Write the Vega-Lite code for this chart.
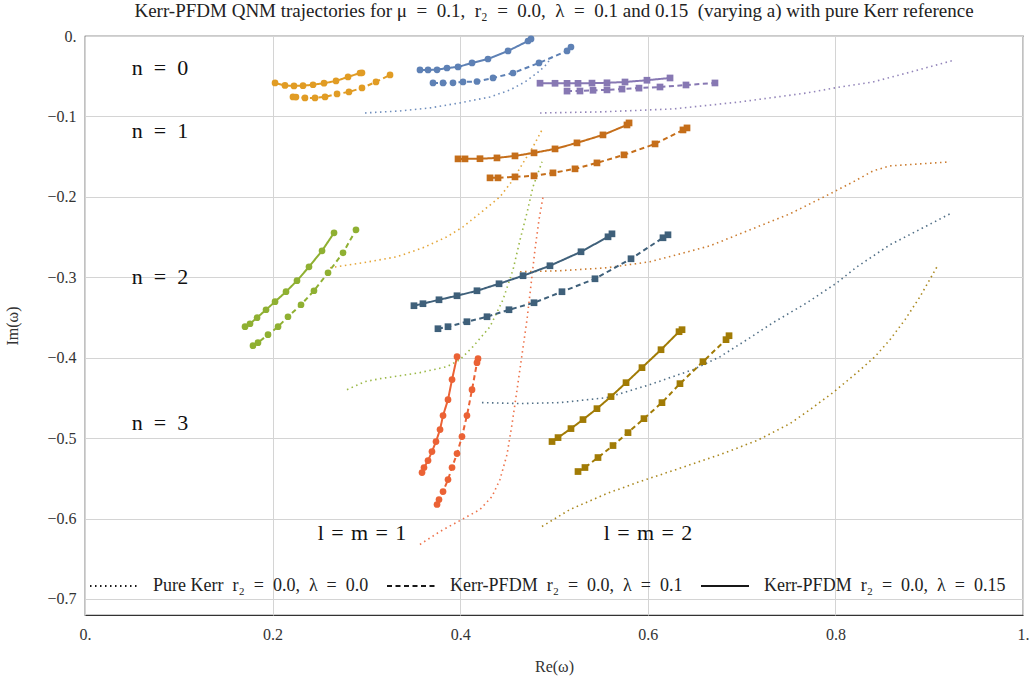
{
"$schema": "https://vega.github.io/schema/vega-lite/v6.json",
"width": 938, "height": 579,
"autosize": {"type": "none"},
"padding": {"left": 85, "top": 36, "right": 13, "bottom": 68},
"background": "white",
"title": {"text": "Kerr-PFDM QNM trajectories for μ\u2002=\u20020.1,\u00a0\u00a0r₂\u2002=\u20020.0,\u00a0\u00a0λ\u2002=\u20020.1 and 0.15\u00a0\u00a0(varying a) with pure Kerr reference", "font": "Liberation Serif", "fontSize": 19, "fontWeight": "normal", "color": "#222", "anchor": "middle", "offset": 7},
"config": {
  "view": {"stroke": "#333", "strokeWidth": 1.2},
  "axis": {"domain": false, "grid": true, "gridColor": "#d4d4d4", "gridWidth": 1, "ticks": false, "labelFont": "Liberation Serif", "labelFontSize": 16, "labelColor": "#333", "titleFont": "Liberation Serif", "titleFontSize": 16, "titleFontWeight": "normal", "titleColor": "#333", "labelFlush": false, "labelOverlap": false}
},
"data": {"values": [
{"c":"a0","k":"K","i":1,"re":0.2985,"im":-0.0957},{"c":"a0","k":"K","i":2,"re":0.3358,"im":-0.0932},{"c":"a0","k":"K","i":3,"re":0.3678,"im":-0.0894},{"c":"a0","k":"K","i":4,"re":0.3998,"im":-0.0832},{"c":"a0","k":"K","i":5,"re":0.4318,"im":-0.0758},{"c":"a0","k":"K","i":6,"re":0.4531,"im":-0.0671},{"c":"a0","k":"K","i":7,"re":0.4691,"im":-0.0571},{"c":"a0","k":"K","i":8,"re":0.4819,"im":-0.0460},{"c":"a0","k":"K","i":9,"re":0.4904,"im":-0.0373},{"c":"a0","k":"K","i":10,"re":0.4979,"im":-0.0261},
{"c":"a1","k":"K","i":1,"re":0.2612,"im":-0.2882},{"c":"a1","k":"K","i":2,"re":0.2964,"im":-0.2820},{"c":"a1","k":"K","i":3,"re":0.3326,"im":-0.2745},{"c":"a1","k":"K","i":4,"re":0.3603,"im":-0.2634},{"c":"a1","k":"K","i":5,"re":0.3859,"im":-0.2497},{"c":"a1","k":"K","i":6,"re":0.4030,"im":-0.2373},{"c":"a1","k":"K","i":7,"re":0.4243,"im":-0.2174},{"c":"a1","k":"K","i":8,"re":0.4424,"im":-0.2000},{"c":"a1","k":"K","i":9,"re":0.4563,"im":-0.1789},{"c":"a1","k":"K","i":10,"re":0.4670,"im":-0.1578},{"c":"a1","k":"K","i":11,"re":0.4776,"im":-0.1379},{"c":"a1","k":"K","i":12,"re":0.4872,"im":-0.1168},
{"c":"a2","k":"K","i":1,"re":0.2793,"im":-0.4398},{"c":"a2","k":"K","i":2,"re":0.2985,"im":-0.4298},{"c":"a2","k":"K","i":3,"re":0.3145,"im":-0.4261},{"c":"a2","k":"K","i":4,"re":0.3571,"im":-0.4186},{"c":"a2","k":"K","i":5,"re":0.3859,"im":-0.4112},{"c":"a2","k":"K","i":6,"re":0.3998,"im":-0.4025},{"c":"a2","k":"K","i":7,"re":0.4136,"im":-0.3863},{"c":"a2","k":"K","i":8,"re":0.4318,"im":-0.3615},{"c":"a2","k":"K","i":9,"re":0.4456,"im":-0.3280},{"c":"a2","k":"K","i":10,"re":0.4563,"im":-0.2907},{"c":"a2","k":"K","i":11,"re":0.4638,"im":-0.2534},{"c":"a2","k":"K","i":12,"re":0.4712,"im":-0.2199},{"c":"a2","k":"K","i":13,"re":0.4776,"im":-0.1876},{"c":"a2","k":"K","i":14,"re":0.4872,"im":-0.1565},
{"c":"a3","k":"K","i":1,"re":0.3571,"im":-0.6323},{"c":"a3","k":"K","i":2,"re":0.3785,"im":-0.6161},{"c":"a3","k":"K","i":3,"re":0.3998,"im":-0.6025},{"c":"a3","k":"K","i":4,"re":0.4211,"im":-0.5888},{"c":"a3","k":"K","i":5,"re":0.4339,"im":-0.5727},{"c":"a3","k":"K","i":6,"re":0.4424,"im":-0.5516},{"c":"a3","k":"K","i":7,"re":0.4499,"im":-0.5205},{"c":"a3","k":"K","i":8,"re":0.4552,"im":-0.4832},{"c":"a3","k":"K","i":9,"re":0.4606,"im":-0.4398},{"c":"a3","k":"K","i":10,"re":0.4659,"im":-0.3963},{"c":"a3","k":"K","i":11,"re":0.4712,"im":-0.3528},{"c":"a3","k":"K","i":12,"re":0.4755,"im":-0.3093},{"c":"a3","k":"K","i":13,"re":0.4797,"im":-0.2658},{"c":"a3","k":"K","i":14,"re":0.4840,"im":-0.2286},{"c":"a3","k":"K","i":15,"re":0.4883,"im":-0.2000},
{"c":"b0","k":"K","i":1,"re":0.4851,"im":-0.0957},{"c":"b0","k":"K","i":2,"re":0.5490,"im":-0.0944},{"c":"b0","k":"K","i":3,"re":0.6269,"im":-0.0907},{"c":"b0","k":"K","i":4,"re":0.6983,"im":-0.0820},{"c":"b0","k":"K","i":5,"re":0.7697,"im":-0.0708},{"c":"b0","k":"K","i":6,"re":0.8049,"im":-0.0634},{"c":"b0","k":"K","i":7,"re":0.8401,"im":-0.0571},{"c":"b0","k":"K","i":8,"re":0.8763,"im":-0.0460},{"c":"b0","k":"K","i":9,"re":0.9115,"im":-0.0348},{"c":"b0","k":"K","i":10,"re":0.9275,"im":-0.0298},
{"c":"b1","k":"K","i":1,"re":0.4638,"im":-0.2932},{"c":"b1","k":"K","i":2,"re":0.5064,"im":-0.2919},{"c":"b1","k":"K","i":3,"re":0.5565,"im":-0.2882},{"c":"b1","k":"K","i":4,"re":0.6023,"im":-0.2807},{"c":"b1","k":"K","i":5,"re":0.6269,"im":-0.2733},{"c":"b1","k":"K","i":6,"re":0.6663,"im":-0.2609},{"c":"b1","k":"K","i":7,"re":0.6983,"im":-0.2460},{"c":"b1","k":"K","i":8,"re":0.7516,"im":-0.2211},{"c":"b1","k":"K","i":9,"re":0.7942,"im":-0.1963},{"c":"b1","k":"K","i":10,"re":0.8230,"im":-0.1789},{"c":"b1","k":"K","i":11,"re":0.8401,"im":-0.1677},{"c":"b1","k":"K","i":12,"re":0.8582,"im":-0.1615},{"c":"b1","k":"K","i":13,"re":0.8902,"im":-0.1590},{"c":"b1","k":"K","i":14,"re":0.9222,"im":-0.1565},
{"c":"b2","k":"K","i":1,"re":0.4232,"im":-0.4559},{"c":"b2","k":"K","i":2,"re":0.4638,"im":-0.4571},{"c":"b2","k":"K","i":3,"re":0.5064,"im":-0.4559},{"c":"b2","k":"K","i":4,"re":0.5565,"im":-0.4497},{"c":"b2","k":"K","i":5,"re":0.6023,"im":-0.4335},{"c":"b2","k":"K","i":6,"re":0.6482,"im":-0.4149},{"c":"b2","k":"K","i":7,"re":0.6770,"im":-0.3988},{"c":"b2","k":"K","i":8,"re":0.7058,"im":-0.3776},{"c":"b2","k":"K","i":9,"re":0.7335,"im":-0.3565},{"c":"b2","k":"K","i":10,"re":0.7697,"im":-0.3317},{"c":"b2","k":"K","i":11,"re":0.8017,"im":-0.3068},{"c":"b2","k":"K","i":12,"re":0.8230,"im":-0.2870},{"c":"b2","k":"K","i":13,"re":0.8582,"im":-0.2596},{"c":"b2","k":"K","i":14,"re":0.8934,"im":-0.2385},{"c":"b2","k":"K","i":15,"re":0.9222,"im":-0.2211},
{"c":"b3","k":"K","i":1,"re":0.4872,"im":-0.6099},{"c":"b3","k":"K","i":2,"re":0.5171,"im":-0.5888},{"c":"b3","k":"K","i":3,"re":0.5565,"im":-0.5689},{"c":"b3","k":"K","i":4,"re":0.5917,"im":-0.5540},{"c":"b3","k":"K","i":5,"re":0.6269,"im":-0.5404},{"c":"b3","k":"K","i":6,"re":0.6770,"im":-0.5205},{"c":"b3","k":"K","i":7,"re":0.7164,"im":-0.5031},{"c":"b3","k":"K","i":8,"re":0.7516,"im":-0.4820},{"c":"b3","k":"K","i":9,"re":0.7729,"im":-0.4646},{"c":"b3","k":"K","i":10,"re":0.7974,"im":-0.4435},{"c":"b3","k":"K","i":11,"re":0.8230,"im":-0.4186},{"c":"b3","k":"K","i":12,"re":0.8422,"im":-0.3988},{"c":"b3","k":"K","i":13,"re":0.8582,"im":-0.3776},{"c":"b3","k":"K","i":14,"re":0.8742,"im":-0.3528},{"c":"b3","k":"K","i":15,"re":0.8902,"im":-0.3242},{"c":"b3","k":"K","i":16,"re":0.9083,"im":-0.2870},
{"c":"a0","k":"L15","i":1,"re":0.3571,"im":-0.0422},{"c":"a0","k":"L15","i":2,"re":0.3657,"im":-0.0422},{"c":"a0","k":"L15","i":3,"re":0.3753,"im":-0.0420},{"c":"a0","k":"L15","i":4,"re":0.3859,"im":-0.0398},{"c":"a0","k":"L15","i":5,"re":0.3977,"im":-0.0385},{"c":"a0","k":"L15","i":6,"re":0.4126,"im":-0.0335},{"c":"a0","k":"L15","i":7,"re":0.4296,"im":-0.0286},{"c":"a0","k":"L15","i":8,"re":0.4510,"im":-0.0186},{"c":"a0","k":"L15","i":9,"re":0.4723,"im":-0.0062},{"c":"a0","k":"L15","i":10,"re":0.4755,"im":-0.0037},
{"c":"a0","k":"L1","i":1,"re":0.3710,"im":-0.0584},{"c":"a0","k":"L1","i":2,"re":0.3817,"im":-0.0584},{"c":"a0","k":"L1","i":3,"re":0.3923,"im":-0.0582},{"c":"a0","k":"L1","i":4,"re":0.4030,"im":-0.0571},{"c":"a0","k":"L1","i":5,"re":0.4179,"im":-0.0566},{"c":"a0","k":"L1","i":6,"re":0.4350,"im":-0.0522},{"c":"a0","k":"L1","i":7,"re":0.4563,"im":-0.0460},{"c":"a0","k":"L1","i":8,"re":0.4840,"im":-0.0335},{"c":"a0","k":"L1","i":9,"re":0.5139,"im":-0.0186},{"c":"a0","k":"L1","i":10,"re":0.5181,"im":-0.0137},
{"c":"a1","k":"L15","i":1,"re":0.2026,"im":-0.0584},{"c":"a1","k":"L15","i":2,"re":0.2132,"im":-0.0615},{"c":"a1","k":"L15","i":3,"re":0.2228,"im":-0.0621},{"c":"a1","k":"L15","i":4,"re":0.2324,"im":-0.0618},{"c":"a1","k":"L15","i":5,"re":0.2431,"im":-0.0606},{"c":"a1","k":"L15","i":6,"re":0.2548,"im":-0.0587},{"c":"a1","k":"L15","i":7,"re":0.2676,"im":-0.0559},{"c":"a1","k":"L15","i":8,"re":0.2804,"im":-0.0509},{"c":"a1","k":"L15","i":9,"re":0.2932,"im":-0.0460},{"c":"a1","k":"L15","i":10,"re":0.2953,"im":-0.0458},
{"c":"a1","k":"L1","i":1,"re":0.2217,"im":-0.0758},{"c":"a1","k":"L1","i":2,"re":0.2249,"im":-0.0760},{"c":"a1","k":"L1","i":3,"re":0.2345,"im":-0.0770},{"c":"a1","k":"L1","i":4,"re":0.2452,"im":-0.0770},{"c":"a1","k":"L1","i":5,"re":0.2559,"im":-0.0758},{"c":"a1","k":"L1","i":6,"re":0.2687,"im":-0.0720},{"c":"a1","k":"L1","i":7,"re":0.2814,"im":-0.0696},{"c":"a1","k":"L1","i":8,"re":0.2953,"im":-0.0646},{"c":"a1","k":"L1","i":9,"re":0.3102,"im":-0.0571},{"c":"a1","k":"L1","i":10,"re":0.3252,"im":-0.0484},
{"c":"a2","k":"L15","i":1,"re":0.1706,"im":-0.3615},{"c":"a2","k":"L15","i":2,"re":0.1759,"im":-0.3578},{"c":"a2","k":"L15","i":3,"re":0.1834,"im":-0.3503},{"c":"a2","k":"L15","i":4,"re":0.1930,"im":-0.3404},{"c":"a2","k":"L15","i":5,"re":0.2026,"im":-0.3304},{"c":"a2","k":"L15","i":6,"re":0.2143,"im":-0.3180},{"c":"a2","k":"L15","i":7,"re":0.2260,"im":-0.3043},{"c":"a2","k":"L15","i":8,"re":0.2388,"im":-0.2870},{"c":"a2","k":"L15","i":9,"re":0.2527,"im":-0.2671},{"c":"a2","k":"L15","i":10,"re":0.2655,"im":-0.2447},
{"c":"a2","k":"L1","i":1,"re":0.1791,"im":-0.3851},{"c":"a2","k":"L1","i":2,"re":0.1844,"im":-0.3814},{"c":"a2","k":"L1","i":3,"re":0.1951,"im":-0.3714},{"c":"a2","k":"L1","i":4,"re":0.2058,"im":-0.3615},{"c":"a2","k":"L1","i":5,"re":0.2164,"im":-0.3491},{"c":"a2","k":"L1","i":6,"re":0.2303,"im":-0.3342},{"c":"a2","k":"L1","i":7,"re":0.2441,"im":-0.3168},{"c":"a2","k":"L1","i":8,"re":0.2591,"im":-0.2944},{"c":"a2","k":"L1","i":9,"re":0.2751,"im":-0.2696},{"c":"a2","k":"L1","i":10,"re":0.2889,"im":-0.2410},
{"c":"a3","k":"L15","i":1,"re":0.3966,"im":-0.3988},{"c":"a3","k":"L15","i":2,"re":0.3913,"im":-0.4273},{"c":"a3","k":"L15","i":3,"re":0.3870,"im":-0.4522},{"c":"a3","k":"L15","i":4,"re":0.3817,"im":-0.4720},{"c":"a3","k":"L15","i":5,"re":0.3785,"im":-0.4894},{"c":"a3","k":"L15","i":6,"re":0.3742,"im":-0.5043},{"c":"a3","k":"L15","i":7,"re":0.3699,"im":-0.5168},{"c":"a3","k":"L15","i":8,"re":0.3657,"im":-0.5280},{"c":"a3","k":"L15","i":9,"re":0.3614,"im":-0.5366},{"c":"a3","k":"L15","i":10,"re":0.3593,"im":-0.5429},
{"c":"a3","k":"L1","i":1,"re":0.4190,"im":-0.4012},{"c":"a3","k":"L1","i":2,"re":0.4179,"im":-0.4062},{"c":"a3","k":"L1","i":3,"re":0.4126,"im":-0.4398},{"c":"a3","k":"L1","i":4,"re":0.4072,"im":-0.4720},{"c":"a3","k":"L1","i":5,"re":0.4019,"im":-0.4981},{"c":"a3","k":"L1","i":6,"re":0.3966,"im":-0.5193},{"c":"a3","k":"L1","i":7,"re":0.3913,"im":-0.5366},{"c":"a3","k":"L1","i":8,"re":0.3870,"im":-0.5516},{"c":"a3","k":"L1","i":9,"re":0.3817,"im":-0.5665},{"c":"a3","k":"L1","i":10,"re":0.3774,"im":-0.5764},{"c":"a3","k":"L1","i":11,"re":0.3753,"im":-0.5826},
{"c":"b0","k":"L15","i":1,"re":0.4851,"im":-0.0587},{"c":"b0","k":"L15","i":2,"re":0.5011,"im":-0.0588},{"c":"b0","k":"L15","i":3,"re":0.5139,"im":-0.0589},{"c":"b0","k":"L15","i":4,"re":0.5256,"im":-0.0589},{"c":"b0","k":"L15","i":5,"re":0.5405,"im":-0.0586},{"c":"b0","k":"L15","i":6,"re":0.5565,"im":-0.0582},{"c":"b0","k":"L15","i":7,"re":0.5757,"im":-0.0572},{"c":"b0","k":"L15","i":8,"re":0.5991,"im":-0.0550},{"c":"b0","k":"L15","i":9,"re":0.6237,"im":-0.0522},
{"c":"b0","k":"L1","i":1,"re":0.5139,"im":-0.0685},{"c":"b0","k":"L1","i":2,"re":0.5277,"im":-0.0684},{"c":"b0","k":"L1","i":3,"re":0.5416,"im":-0.0675},{"c":"b0","k":"L1","i":4,"re":0.5565,"im":-0.0670},{"c":"b0","k":"L1","i":5,"re":0.5725,"im":-0.0660},{"c":"b0","k":"L1","i":6,"re":0.5906,"im":-0.0648},{"c":"b0","k":"L1","i":7,"re":0.6130,"im":-0.0634},{"c":"b0","k":"L1","i":8,"re":0.6407,"im":-0.0609},{"c":"b0","k":"L1","i":9,"re":0.6716,"im":-0.0584},
{"c":"b1","k":"L15","i":1,"re":0.3977,"im":-0.1528},{"c":"b1","k":"L15","i":2,"re":0.4051,"im":-0.1528},{"c":"b1","k":"L15","i":3,"re":0.4211,"im":-0.1526},{"c":"b1","k":"L15","i":4,"re":0.4392,"im":-0.1516},{"c":"b1","k":"L15","i":5,"re":0.4584,"im":-0.1491},{"c":"b1","k":"L15","i":6,"re":0.4787,"im":-0.1453},{"c":"b1","k":"L15","i":7,"re":0.5011,"im":-0.1404},{"c":"b1","k":"L15","i":8,"re":0.5245,"im":-0.1329},{"c":"b1","k":"L15","i":9,"re":0.5522,"im":-0.1230},{"c":"b1","k":"L15","i":10,"re":0.5778,"im":-0.1106},{"c":"b1","k":"L15","i":11,"re":0.5800,"im":-0.1081},
{"c":"b1","k":"L1","i":1,"re":0.4318,"im":-0.1764},{"c":"b1","k":"L1","i":2,"re":0.4403,"im":-0.1764},{"c":"b1","k":"L1","i":3,"re":0.4584,"im":-0.1752},{"c":"b1","k":"L1","i":4,"re":0.4787,"im":-0.1739},{"c":"b1","k":"L1","i":5,"re":0.4989,"im":-0.1702},{"c":"b1","k":"L1","i":6,"re":0.5224,"im":-0.1652},{"c":"b1","k":"L1","i":7,"re":0.5458,"im":-0.1578},{"c":"b1","k":"L1","i":8,"re":0.5746,"im":-0.1478},{"c":"b1","k":"L1","i":9,"re":0.6077,"im":-0.1342},{"c":"b1","k":"L1","i":10,"re":0.6375,"im":-0.1168},{"c":"b1","k":"L1","i":11,"re":0.6418,"im":-0.1143},
{"c":"b2","k":"L15","i":1,"re":0.3507,"im":-0.3354},{"c":"b2","k":"L15","i":2,"re":0.3603,"im":-0.3329},{"c":"b2","k":"L15","i":3,"re":0.3774,"im":-0.3280},{"c":"b2","k":"L15","i":4,"re":0.3966,"im":-0.3230},{"c":"b2","k":"L15","i":5,"re":0.4179,"im":-0.3168},{"c":"b2","k":"L15","i":6,"re":0.4414,"im":-0.3081},{"c":"b2","k":"L15","i":7,"re":0.4670,"im":-0.2981},{"c":"b2","k":"L15","i":8,"re":0.4957,"im":-0.2857},{"c":"b2","k":"L15","i":9,"re":0.5288,"im":-0.2683},{"c":"b2","k":"L15","i":10,"re":0.5576,"im":-0.2497},{"c":"b2","k":"L15","i":11,"re":0.5618,"im":-0.2460},
{"c":"b2","k":"L1","i":1,"re":0.3763,"im":-0.3640},{"c":"b2","k":"L1","i":2,"re":0.3870,"im":-0.3615},{"c":"b2","k":"L1","i":3,"re":0.4072,"im":-0.3553},{"c":"b2","k":"L1","i":4,"re":0.4286,"im":-0.3491},{"c":"b2","k":"L1","i":5,"re":0.4520,"im":-0.3404},{"c":"b2","k":"L1","i":6,"re":0.4787,"im":-0.3317},{"c":"b2","k":"L1","i":7,"re":0.5085,"im":-0.3180},{"c":"b2","k":"L1","i":8,"re":0.5437,"im":-0.3019},{"c":"b2","k":"L1","i":9,"re":0.5821,"im":-0.2770},{"c":"b2","k":"L1","i":10,"re":0.6162,"im":-0.2509},{"c":"b2","k":"L1","i":11,"re":0.6215,"im":-0.2472},
{"c":"b3","k":"L15","i":1,"re":0.4979,"im":-0.5043},{"c":"b3","k":"L15","i":2,"re":0.5043,"im":-0.4994},{"c":"b3","k":"L15","i":3,"re":0.5181,"im":-0.4882},{"c":"b3","k":"L15","i":4,"re":0.5309,"im":-0.4770},{"c":"b3","k":"L15","i":5,"re":0.5458,"im":-0.4634},{"c":"b3","k":"L15","i":6,"re":0.5608,"im":-0.4484},{"c":"b3","k":"L15","i":7,"re":0.5768,"im":-0.4311},{"c":"b3","k":"L15","i":8,"re":0.5938,"im":-0.4124},{"c":"b3","k":"L15","i":9,"re":0.6141,"im":-0.3901},{"c":"b3","k":"L15","i":10,"re":0.6333,"im":-0.3677},{"c":"b3","k":"L15","i":11,"re":0.6365,"im":-0.3652},
{"c":"b3","k":"L1","i":1,"re":0.5256,"im":-0.5416},{"c":"b3","k":"L1","i":2,"re":0.5330,"im":-0.5366},{"c":"b3","k":"L1","i":3,"re":0.5469,"im":-0.5242},{"c":"b3","k":"L1","i":4,"re":0.5629,"im":-0.5093},{"c":"b3","k":"L1","i":5,"re":0.5789,"im":-0.4932},{"c":"b3","k":"L1","i":6,"re":0.5959,"im":-0.4758},{"c":"b3","k":"L1","i":7,"re":0.6151,"im":-0.4559},{"c":"b3","k":"L1","i":8,"re":0.6343,"im":-0.4323},{"c":"b3","k":"L1","i":9,"re":0.6588,"im":-0.4050},{"c":"b3","k":"L1","i":10,"re":0.6834,"im":-0.3776},{"c":"b3","k":"L1","i":11,"re":0.6866,"im":-0.3727}
]},
"encoding": {
  "x": {"field": "re", "type": "quantitative", "title": "Re(ω)", "scale": {"domain": [0, 1], "nice": false, "zero": false}, "axis": {"values": [0, 0.2, 0.4, 0.6, 0.8, 1], "labelExpr": "datum.value == 0 ? '0.' : datum.value == 1 ? '1.' : format(datum.value, '.1f')", "labelPadding": 11, "titlePadding": 16}},
  "y": {"field": "im", "type": "quantitative", "title": "Im(ω)", "scale": {"domain": [-0.72, 0], "nice": false, "zero": false}, "axis": {"values": [0, -0.1, -0.2, -0.3, -0.4, -0.5, -0.6, -0.7], "labelExpr": "datum.value == 0 ? '0.' : format(datum.value, '.1f')", "labelPadding": 9, "titlePadding": 26}}
},
"layer": [
  {"transform": [{"filter": "datum.k == 'K'"}],
   "mark": {"type": "line", "strokeWidth": 1.6, "opacity": 0.9},
   "encoding": {
     "color": {"field": "c", "type": "nominal", "scale": {"domain": ["a0","a1","a2","a3","b0","b1","b2","b3"], "range": ["#5e81b5","#e19c24","#8fb032","#eb6235","#8778b3","#c56e1a","#3f607a","#a17b05"]}, "legend": null},
     "strokeDash": {"field": "k", "type": "nominal", "scale": {"domain": ["K","L1","L15"], "range": [[1.5,3.5],[5,3.5],[1,0]]},
       "legend": {"orient": "none", "legendX": 4, "legendY": 525, "direction": "horizontal", "title": null, "padding": 0, "labelFont": "Liberation Serif", "labelFontSize": 18, "labelColor": "#222", "labelLimit": 400, "labelOffset": 14, "columnPadding": 14, "gridAlign": "each", "symbolType": "stroke", "symbolSize": 2304, "symbolStrokeWidth": 2, "symbolStrokeColor": "black",
         "labelExpr": "datum.label == 'K' ? 'Pure Kerr\u00a0\u00a0r₂\u2002=\u20020.0,\u00a0\u00a0λ\u2002=\u20020.0' : datum.label == 'L1' ? 'Kerr-PFDM\u00a0\u00a0r₂\u2002=\u20020.0,\u00a0\u00a0λ\u2002=\u20020.1' : 'Kerr-PFDM\u00a0\u00a0r₂\u2002=\u20020.0,\u00a0\u00a0λ\u2002=\u20020.15'"}},
     "order": {"field": "i", "type": "quantitative"}
   }},
  {"transform": [{"filter": "datum.k != 'K'"}],
   "mark": {"type": "line", "strokeWidth": 2},
   "encoding": {
     "color": {"field": "c", "type": "nominal", "legend": null},
     "strokeDash": {"field": "k", "type": "nominal"},
     "order": {"field": "i", "type": "quantitative"}
   }},
  {"transform": [{"filter": "datum.k != 'K'"}],
   "mark": {"type": "point", "filled": true, "opacity": 1, "size": 45},
   "encoding": {
     "color": {"field": "c", "type": "nominal", "legend": null},
     "shape": {"field": "c", "type": "nominal", "scale": {"domain": ["a0","a1","a2","a3","b0","b1","b2","b3"], "range": ["circle","circle","circle","circle","square","square","square","square"]}, "legend": null}
   }},
  {"data": {"values": [
     {"t": "n\u2002=\u20020", "re": 0.080, "im": -0.0398},
     {"t": "n\u2002=\u20021", "re": 0.080, "im": -0.1180},
     {"t": "n\u2002=\u20022", "re": 0.080, "im": -0.2994},
     {"t": "n\u2002=\u20023", "re": 0.080, "im": -0.4807},
     {"t": "l\u2004=\u2004m\u2004=\u20041", "re": 0.2953, "im": -0.6186},
     {"t": "l\u2004=\u2004m\u2004=\u20042", "re": 0.6002, "im": -0.6186}
   ]},
   "mark": {"type": "text", "font": "Liberation Serif", "fontSize": 22, "align": "center", "baseline": "middle", "color": "#111"},
   "encoding": {"text": {"field": "t", "type": "nominal"}}}
]
}
